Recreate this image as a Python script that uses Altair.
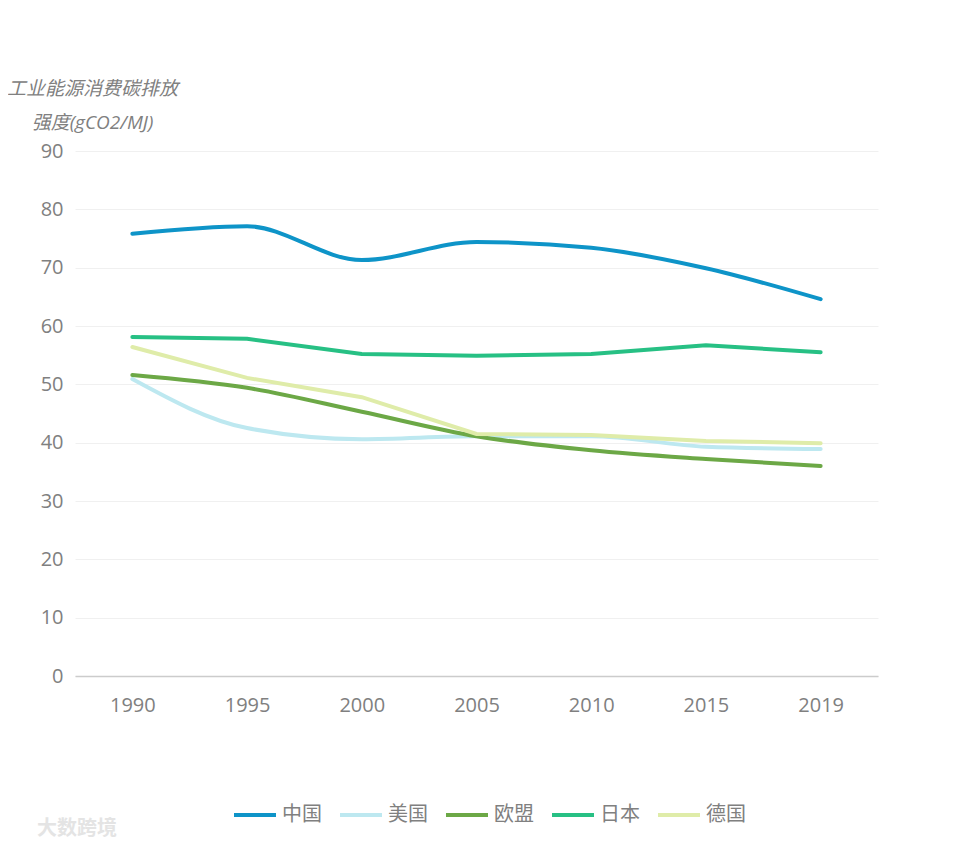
import altair as alt
import pandas as pd

years = ["1990", "1995", "2000", "2005", "2010", "2015", "2019"]
series = ["中国", "美国", "欧盟", "日本", "德国"]
china = [75.8, 77.1, 71.3, 74.4, 73.4, 69.9, 64.6]
usa = [50.9, 42.5, 40.6, 41.1, 41.1, 39.3, 38.9]
eu = [51.6, 49.4, 45.3, 41.1, 38.7, 37.2, 36.0]
japan = [58.1, 57.8, 55.2, 54.9, 55.2, 56.7, 55.5]
germany = [56.4, 51.1, 47.8, 41.5, 41.3, 40.3, 39.9]
colors = ["#0e94c8", "#bde8f0", "#6ca846", "#27c084", "#dfeca9"]
smooth_series = ["中国", "美国", "欧盟"]

rows = []
for name, vals in zip(series, [china, usa, eu, japan, germany]):
    for y, v in zip(years, vals):
        rows.append({"year": y, "series": name, "value": v})
df = pd.DataFrame(rows)

FONT = "Open Sans, Noto Sans CJK SC"

x = alt.X("year:O", sort=years, scale=alt.Scale(type="point", padding=0.5),
          axis=alt.Axis(title=None, labelAngle=0, labelFontSize=20, labelColor="#808080",
                        labelFont=FONT, domainColor="#cccccc", domainWidth=1.5, ticks=False,
                        labelPadding=19, grid=False))
y = alt.Y("value:Q", scale=alt.Scale(domain=[0, 90]),
          axis=alt.Axis(values=list(range(0, 91, 10)), title=["工业能源消费碳排放", "强度(gCO2/MJ)"],
                        titleAngle=0, titleAlign="center", titleBaseline="alphabetic",
                        titleX=17, titleY=-57, titleFontSize=19, titleFontStyle="italic",
                        titleFontWeight="normal", titleColor="#808080", titleFont=FONT,
                        titleLineHeight=34,
                        labelFontSize=20, labelColor="#808080", labelFont=FONT, labelPadding=12,
                        domain=False, ticks=False, gridColor="#f0f0f0", gridWidth=1))
color = alt.Color("series:N", sort=series, scale=alt.Scale(domain=series, range=colors),
                  legend=alt.Legend(title=None, orient="none", direction="horizontal",
                                    legendX=157, legendY=641, symbolType="stroke",
                                    symbolStrokeWidth=4, symbolSize=1764, labelFontSize=20,
                                    labelColor="#808080", labelFont=FONT, columnPadding=10,
                                    labelOffset=4))

base = alt.Chart(df)
smooth = base.transform_filter(alt.FieldOneOfPredicate(field="series", oneOf=smooth_series)).mark_line(
    strokeWidth=4, interpolate="monotone", strokeCap="round").encode(x=x, y=y, color=color)
straight = base.transform_filter(~alt.FieldOneOfPredicate(field="series", oneOf=smooth_series)).mark_line(
    strokeWidth=4, interpolate="linear", strokeCap="round").encode(x=x, y=y, color=color)

wm = alt.Chart(pd.DataFrame({"t": ["大数跨境"]})).mark_text(
    fontSize=20, color="#e4e4e4", align="left", baseline="middle", font="Noto Sans CJK SC",
    fontWeight="bold").encode(x=alt.value(-38), y=alt.value(678), text="t:N")

chart = alt.layer(smooth, straight, wm).properties(
    width=803, height=525,
    background="white",
    autosize=alt.AutoSizeParams(type="none"),
    padding={"left": 67, "top": 143, "right": 90, "bottom": 165},
).configure_view(stroke=None, strokeWidth=0)

chart.save("out.html", embed_options={"renderer": "svg", "actions": False})
